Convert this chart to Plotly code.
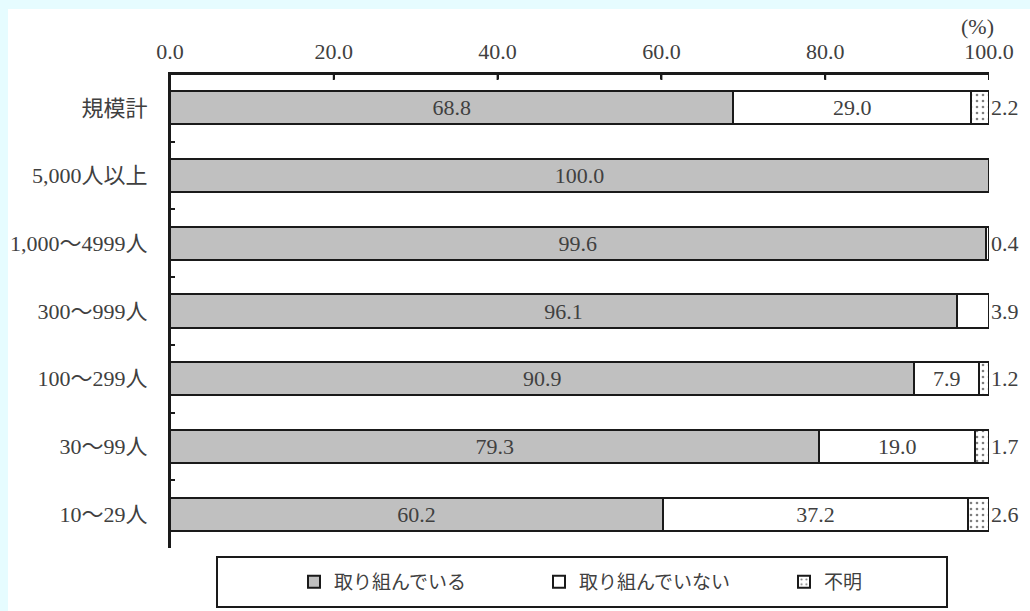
import plotly.graph_objects as go

# Survey results by company size (%)
categories = ["規模計", "5,000人以上", "1,000～4999人", "300～999人", "100～299人", "30～99人", "10～29人"]
doing = [68.8, 100.0, 99.6, 96.1, 90.9, 79.3, 60.2]
not_doing = [29.0, 0.0, 0.4, 3.9, 7.9, 19.0, 37.2]
unknown = [2.2, 0.0, 0.0, 0.0, 1.2, 1.7, 2.6]
series_names = ["取り組んでいる", "取り組んでいない", "不明"]
x_ticks = [0, 20, 40, 60, 80, 100]

W, H = 1030, 611
L, R, T, B = 170, 41, 74, 63
PW, PH = W - L - R, H - T - B

NUM_FONT = "Liberation Serif, Noto Sans CJK JP"
TXT = "#404040"
NUM_SIZE = 22
PAGE = "#e6fcff"
INK = "#1a1a1a"


def px_x(p):
    return (p - L) / PW


def px_y(p):
    return (H - B - p) / PH


def inside_labels(vals, min_v=5.0):
    return [f"{v:.1f}" if v >= min_v else "" for v in vals]


fig = go.Figure()
line = dict(color=INK, width=2)
fig.add_trace(go.Bar(
    y=categories, x=doing, orientation="h", name=series_names[0],
    marker=dict(color="#c0c0c0", line=line),
    text=inside_labels(doing), textposition="inside", insidetextanchor="middle",
    textfont=dict(family=NUM_FONT, size=NUM_SIZE, color=TXT), textangle=0,
))
fig.add_trace(go.Bar(
    y=categories, x=not_doing, orientation="h", name=series_names[1],
    marker=dict(color="#ffffff", line=line),
    text=inside_labels(not_doing), textposition="inside", insidetextanchor="middle",
    textfont=dict(family=NUM_FONT, size=NUM_SIZE, color=TXT), textangle=0,
))
fig.add_trace(go.Bar(
    y=categories, x=unknown, orientation="h", name=series_names[2],
    marker=dict(color="#ffffff", line=line,
                pattern=dict(shape=".", fgcolor="#000000", bgcolor="#ffffff",
                             size=6, solidity=0.15)),
    textposition="none",
))

# Small end segments are labelled just past the right end of the bar
annotations = []
for i, (a, b, c) in enumerate(zip(doing, not_doing, unknown)):
    last = c if c > 0 else (b if b > 0 else None)
    if last is not None and last < 5:
        annotations.append(dict(
            x=min(round(a + b + c, 6), 100), y=i, xref="x", yref="y", text=f"{last:.1f}",
            showarrow=False, xanchor="left", xshift=0,
            font=dict(family=NUM_FONT, size=NUM_SIZE, color=TXT),
        ))
annotations.append(dict(
    x=px_x(977), y=px_y(27), xref="paper", yref="paper", text="(%)",
    xanchor="center", yanchor="middle",
    showarrow=False, font=dict(family=NUM_FONT, size=NUM_SIZE, color=TXT),
))

shapes = [
    # light cyan page edges (left and top)
    dict(type="rect", xref="paper", yref="paper", x0=px_x(-5), x1=px_x(8),
         y0=px_y(620), y1=px_y(-5), fillcolor=PAGE, line=dict(width=0)),
    dict(type="rect", xref="paper", yref="paper", x0=px_x(-5), x1=px_x(1040),
         y0=px_y(9), y1=px_y(-5), fillcolor=PAGE, line=dict(width=0)),
    # legend frame
    dict(type="rect", xref="paper", yref="paper", x0=px_x(217), x1=px_x(947),
         y0=px_y(607), y1=px_y(557), fillcolor="rgba(0,0,0,0)",
         line=dict(color=INK, width=2)),
    # frame lines along the top and left of the plotting area
    dict(type="line", xref="paper", yref="paper", x0=0, x1=1, y0=1, y1=1,
         line=dict(color=INK, width=2)),
    dict(type="line", xref="paper", yref="paper", x0=0, x1=0, y0=0, y1=1,
         line=dict(color=INK, width=2)),
]
# downward tick marks on the top scale
for v in x_ticks:
    shapes.append(dict(type="line", xref="x", yref="paper", x0=v, x1=v,
                       y0=1, y1=1 - 6 / PH, line=dict(color=INK, width=2)))

fig.update_layout(
    width=W, height=H,
    margin=dict(l=L, r=R, t=T, b=B, autoexpand=False),
    paper_bgcolor="#ffffff", plot_bgcolor="#ffffff",
    barmode="stack", bargap=0.51,
    showlegend=True,
    legend=dict(orientation="h", x=px_x(294), y=px_y(582), xanchor="left", yanchor="middle",
                entrywidth=200, font=dict(family="Noto Sans CJK JP", size=19, color=TXT),
                bgcolor="rgba(0,0,0,0)", traceorder="normal"),
    annotations=annotations, shapes=shapes,
    xaxis=dict(side="top", range=[0, 100], tickvals=x_ticks, tickformat=".1f",
               ticks="inside", ticklen=5, tickwidth=2, tickcolor=INK,
               showline=True, linewidth=2, linecolor=INK, showgrid=False,
               zeroline=False, ticklabelstandoff=4,
               tickfont=dict(family=NUM_FONT, size=NUM_SIZE, color=TXT)),
    yaxis=dict(type="category", autorange="reversed", tickson="boundaries",
               ticks="inside", ticklen=5, tickwidth=2, tickcolor=INK,
               showline=True, linewidth=2, linecolor=INK, showgrid=False,
               ticklabelstandoff=16,
               tickfont=dict(family=NUM_FONT, size=NUM_SIZE, color=TXT)),
)

fig.write_html("out.html")
